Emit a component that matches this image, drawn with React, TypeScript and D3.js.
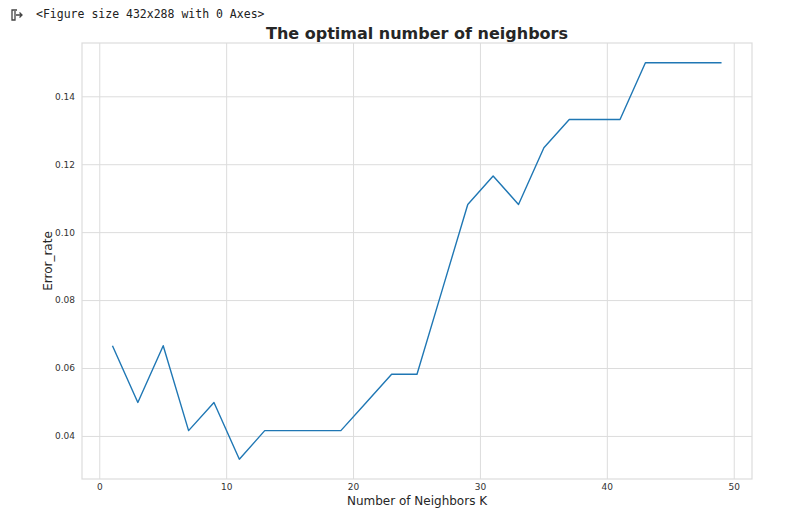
import React, { useEffect, useRef } from 'react';
import * as d3 from 'd3';

const neighbors = [1, 3, 5, 7, 9, 11, 13, 15, 17, 19, 21, 23, 25, 27, 29, 31, 33, 35, 37, 39, 41, 43, 45, 47, 49];
const errorRate = [
  0.0667, 0.05, 0.0667, 0.0417, 0.05, 0.0333, 0.0417, 0.0417, 0.0417, 0.0417,
  0.05, 0.0583, 0.0583, 0.0833, 0.1083, 0.1167, 0.1083, 0.125, 0.1333, 0.1333,
  0.1333, 0.15, 0.15, 0.15, 0.15,
];
const xTicks = [0, 10, 20, 30, 40, 50];
const yTicks = [0.04, 0.06, 0.08, 0.1, 0.12, 0.14];

const App: React.FC = () => {
  const svgRef = useRef<SVGSVGElement>(null);

  useEffect(() => {
    if (!svgRef.current) return;
    const width = 794;
    const height = 517;
    const left = 82, right = 752, top = 43, bottom = 479;

    const svg = d3.select(svgRef.current)
      .attr('width', width)
      .attr('height', height)
      .html('');

    svg.append('rect').attr('width', width).attr('height', height).attr('fill', '#fff');

    // notebook output header
    const icon = svg.append('g').attr('stroke', '#444').attr('fill', 'none').attr('stroke-width', 1.3);
    icon.append('path').attr('d', 'M15 11 V20 H12 V10 H17');
    icon.append('path').attr('d', 'M16 15 H22 M19.5 12.5 L22 15 L19.5 17.5');

    svg.append('text')
      .attr('x', 36)
      .attr('y', 18)
      .attr('font-family', '"DejaVu Sans Mono", "Liberation Mono", monospace')
      .attr('font-size', 11.5)
      .attr('fill', '#212121')
      .text('<Figure size 432x288 with 0 Axes>');

    // 5% margins like matplotlib
    const xExt = d3.extent(neighbors) as [number, number];
    const yExt = d3.extent(errorRate) as [number, number];
    const xPad = (xExt[1] - xExt[0]) * 0.05;
    const yPad = (yExt[1] - yExt[0]) * 0.05;

    const x = d3.scaleLinear().domain([xExt[0] - xPad, xExt[1] + xPad]).range([left, right]);
    const y = d3.scaleLinear().domain([yExt[0] - yPad, yExt[1] + yPad]).range([bottom, top]);

    const grid = svg.append('g').attr('stroke', '#dcdcdc').attr('stroke-width', 1);
    xTicks.forEach(t => {
      grid.append('line').attr('x1', x(t)).attr('x2', x(t)).attr('y1', top).attr('y2', bottom);
    });
    yTicks.forEach(t => {
      grid.append('line').attr('x1', left).attr('x2', right).attr('y1', y(t)).attr('y2', y(t));
    });

    svg.append('rect')
      .attr('x', left).attr('y', top)
      .attr('width', right - left).attr('height', bottom - top)
      .attr('fill', 'none').attr('stroke', '#dcdcdc').attr('stroke-width', 1.2);

    const line = d3.line<number>()
      .x((_, i) => x(neighbors[i]))
      .y(d => y(d));

    svg.append('path')
      .datum(errorRate)
      .attr('d', line)
      .attr('fill', 'none')
      .attr('stroke', '#1f77b4')
      .attr('stroke-width', 1.4)
      .attr('stroke-linejoin', 'round');

    const tickFont = '"DejaVu Sans", sans-serif';
    svg.append('g').selectAll('text')
      .data(xTicks)
      .enter()
      .append('text')
      .attr('x', d => x(d))
      .attr('y', bottom + 5)
      .attr('dy', '0.71em')
      .attr('text-anchor', 'middle')
      .attr('font-family', tickFont)
      .attr('font-size', 9)
      .attr('fill', '#333')
      .text(d => d3.format('d')(d));

    svg.append('g').selectAll('text')
      .data(yTicks)
      .enter()
      .append('text')
      .attr('x', left - 7)
      .attr('y', d => y(d))
      .attr('dy', '0.32em')
      .attr('text-anchor', 'end')
      .attr('font-family', tickFont)
      .attr('font-size', 9)
      .attr('fill', '#333')
      .text(d => d3.format('.2f')(d));

    svg.append('text')
      .attr('x', (left + right) / 2)
      .attr('y', 39)
      .attr('text-anchor', 'middle')
      .attr('font-family', tickFont)
      .attr('font-size', 16)
      .attr('font-weight', 'bold')
      .attr('fill', '#262626')
      .text('The optimal number of neighbors');

    svg.append('text')
      .attr('x', (left + right) / 2)
      .attr('y', 505)
      .attr('text-anchor', 'middle')
      .attr('font-family', tickFont)
      .attr('font-size', 12)
      .attr('fill', '#262626')
      .text('Number of Neighbors K');

    svg.append('text')
      .attr('transform', `translate(52, ${(top + bottom) / 2}) rotate(-90)`)
      .attr('text-anchor', 'middle')
      .attr('font-family', tickFont)
      .attr('font-size', 12)
      .attr('fill', '#262626')
      .text('Error_rate');
  }, []);

  return (
    <svg ref={svgRef} style={{ position: 'absolute', left: 0, top: 0, display: 'block' }} />
  );
};

export default App;
